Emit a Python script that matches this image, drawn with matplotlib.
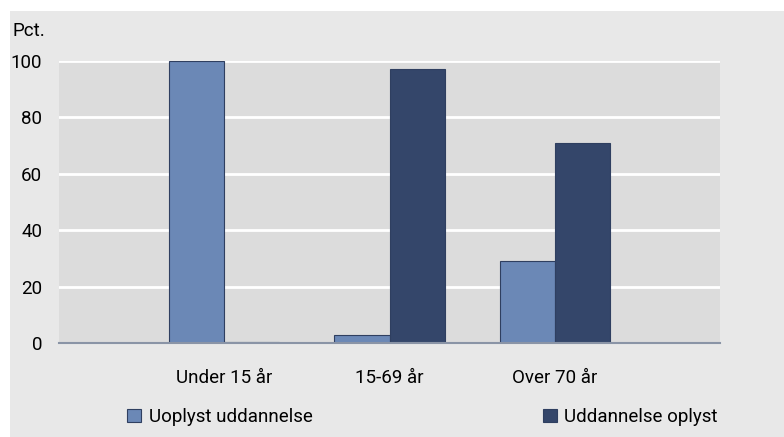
import matplotlib
matplotlib.use("Agg")
import matplotlib.pyplot as plt
from matplotlib.patches import Rectangle, Patch
import numpy as np

categories = ["Under 15 år", "15-69 år", "Over 70 år"]
uoplyst = [100, 3, 29]
oplyst = [0.4, 97, 71]
series_names = ["Uoplyst uddannelse", "Uddannelse oplyst"]
yticks = [0, 20, 40, 60, 80, 100]

fs = 13.5
plt.rcParams['font.family'] = ['Roboto', 'DejaVu Sans']

W, H = 784, 437
fig = plt.figure(figsize=(W/100, H/100), dpi=100)
fig.patch.set_facecolor("white")
fig.patches.append(Rectangle((10/W, 0), 1 - 10/W, 1 - 11/H, transform=fig.transFigure,
                             facecolor="#e8e8e8", edgecolor="none", zorder=-10))

ax = fig.add_axes([59/W, 1 - 343/H, (720-59)/W, (343-60.7)/H])
ax.set_facecolor("#dcdcdc")
x = np.arange(1, len(categories) + 1)
bw = 0.333
c1, c2 = "#6b88b6", "#34466a"
ax.bar(x - bw/2, uoplyst, bw, color=c1, edgecolor="#2f3f60", linewidth=0.8, zorder=3)
ax.bar(x + bw/2, oplyst, bw, color=c2, edgecolor="#2f3f60", linewidth=0.8, zorder=3)
ax.set_xlim(0, 4)
ax.set_ylim(0, 100)
ax.set_yticks(yticks)
ax.set_xticks(x)
ax.set_xticklabels(categories)
for s in ["top", "right", "left"]:
    ax.spines[s].set_visible(False)
ax.spines["bottom"].set_color("#8a94a6")
ax.spines["bottom"].set_linewidth(1.5)
ax.spines["bottom"].set_zorder(4)
ax.grid(axis="y", color="white", linewidth=2, zorder=1)
ax.set_axisbelow(True)
ax.tick_params(axis="both", length=0, labelsize=fs, colors="black")
ax.tick_params(axis="y", pad=12)
ax.tick_params(axis="x", pad=19)

fig.text(13/W, 1 - 31/H, "Pct.", fontsize=fs, va="center", ha="left")

handles = [Patch(facecolor=c1, edgecolor="#2f3f60", linewidth=0.8),
           Patch(facecolor=c2, edgecolor="#2f3f60", linewidth=0.8)]
leg = fig.legend(handles, series_names, loc="center", ncol=2, mode="expand",
                 bbox_to_anchor=(127/W, 1 - 427/H, (718-127)/W, 20/H),
                 frameon=False, fontsize=fs, handlelength=0.75, handleheight=0.75,
                 handletextpad=0.4, borderaxespad=0, borderpad=0)

fig.savefig("out.png", dpi=100)
